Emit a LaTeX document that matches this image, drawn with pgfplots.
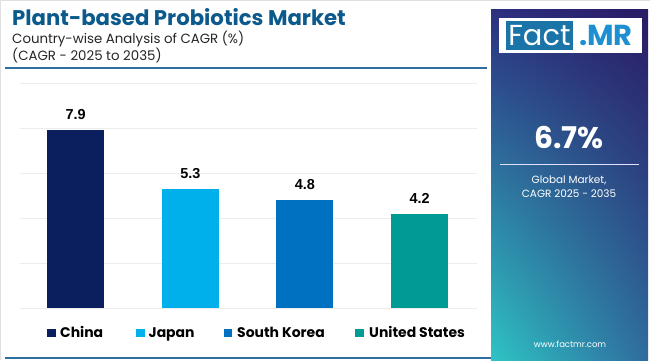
\documentclass[border=0pt]{standalone}
\usepackage{pgfplots}
\pgfplotsset{compat=1.18}
\usetikzlibrary{shadings}
\usepackage{fontspec}
\setmainfont{Poppins}
\newfontfamily\lib{Liberation Sans}
\definecolor{cChina}{HTML}{0B1F5E}
\definecolor{cJapan}{HTML}{00B0EA}
\definecolor{cKorea}{HTML}{0070C0}
\definecolor{cUS}{HTML}{009B95}
\definecolor{titleblue}{HTML}{0C5A8C}
\definecolor{rulebl}{HTML}{2E6FA0}
\definecolor{logoblue}{HTML}{1B74A8}
\definecolor{logolight}{HTML}{1E90D2}
\definecolor{pUL}{RGB}{44,48,128}
\definecolor{pUR}{RGB}{42,26,100}
\definecolor{pLL}{RGB}{46,196,196}
\definecolor{pLR}{RGB}{47,108,158}
\begin{document}
\begin{tikzpicture}[x=1bp,y=1bp]
\useasboundingbox (0,0) rectangle (650,360);
\fill[white] (0,0) rectangle (650,360);
\draw[gray!25, line width=2bp] (0,360) -- (650,360);
\draw[gray!25, line width=2bp] (0,0) -- (0,360);
% right panel
\shade[upper left=pUL, upper right=pUR, lower left=pLL, lower right=pLR]
  (491,0) rectangle (648,350);
% title block
\node[anchor=base west, inner sep=0, text=titleblue, font=\fontsize{21.3}{26}\selectfont\bfseries] at (12,335) {Plant-based Probiotics Market};
\node[anchor=base west, inner sep=0, text=black!85, font=\fontsize{13.4}{15}\selectfont] at (12,317) {Country-wise Analysis of CAGR (\%)};
\node[anchor=base west, inner sep=0, text=black!85, font=\fontsize{13.4}{15}\selectfont] at (12,300) {(CAGR - 2025 to 2035)};
\draw[rulebl, line width=1.2bp] (5,292) -- (487,292);
\draw[rulebl, line width=1.5bp] (5,2) -- (491,2);
% logo
\fill[white] (499,307) rectangle (642,342);
\fill[logoblue] (506,310) rectangle (573,339);
\node[anchor=center, inner sep=0, text=white, font=\fontsize{29}{30}\selectfont] at (539.5,324.5) {Fact};
\node[anchor=center, inner sep=0, text=logolight, font=\fontsize{29}{30}\selectfont\bfseries] at (606,324.5) {.MR};
% panel texts
\node[anchor=center, inner sep=0, text=white, font=\fontsize{30}{32}\selectfont\bfseries] at (569,222) {6.7\%};
\draw[white!70!blue!40, line width=1bp] (500,196) -- (639,196);
\node[anchor=center, inner sep=0, text=white, font=\fontsize{10.5}{12}\selectfont] at (569,180) {Global Market,};
\node[anchor=center, inner sep=0, text=white, font=\fontsize{10.5}{12}\selectfont] at (569,166) {CAGR 2025 - 2035};
\node[anchor=center, inner sep=0, text=white, font=\fontsize{8.5}{10}\selectfont] at (570,16) {www.factmr.com};
% chart
\begin{axis}[at={(20bp,52bp)}, anchor=south west, scale only axis, width=457bp, height=225bp,
  xmin=-0.485, xmax=3.5, ymin=0, ymax=10, ytick={0,2,...,10}, ymajorgrids,
  grid style={color=gray!15, line width=0.6bp}, axis line style={draw=none},
  major tick length=0, xtick=\empty, yticklabels={}, ybar, bar width=57bp, clip=false,
  nodes near coords={\pgfmathprintnumber[fixed,fixed zerofill,precision=1]{\pgfplotspointmeta}},
  nodes near coords style={font=\lib\bfseries\fontsize{14.5}{16}\selectfont, text=black, anchor=south, inner sep=0, yshift=10bp, /pgf/number format/assume math mode=true}]
\addplot[fill=cChina, draw=none, bar shift=0pt] coordinates {(0,7.9)};
\addplot[fill=cJapan, draw=none, bar shift=0pt] coordinates {(1,5.3)};
\addplot[fill=cKorea, draw=none, bar shift=0pt] coordinates {(2,4.8)};
\addplot[fill=cUS, draw=none, bar shift=0pt] coordinates {(3,4.2)};
\end{axis}
% legend
\foreach \xs/\xl/\c/\t in {47/60/cChina/China, 136/148.5/cJapan/Japan, 223.5/237/cKorea/South Korea, 355/369/cUS/United States}{
  \fill[\c] (\xs,23) rectangle (\xs+8.5,31.5);
  \node[anchor=base west, inner sep=0, text=black, font=\fontsize{14}{16}\selectfont\bfseries] at (\xl,23) {\t};
}
\end{tikzpicture}
\end{document}
